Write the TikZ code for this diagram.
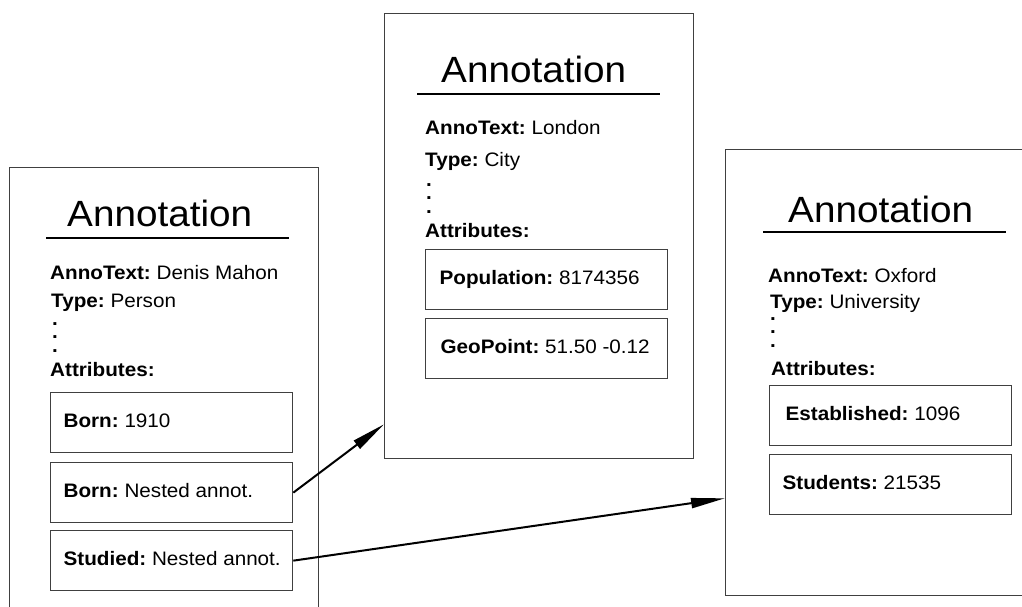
\documentclass[tikz,border=0pt]{standalone}
\usepackage{fontspec}
\setmainfont{Liberation Sans}[FakeStretch=1.06]
\usetikzlibrary{arrows.meta}
\frenchspacing
\newcommand\cardbody{\fontsize{19.5}{24}\selectfont}
\newcommand\cardtitle{\fontsize{36.5}{44}\selectfont}
% vertical ellipsis built from three bold periods
\newcommand\vdotstack{\vbox{\offinterlineskip\hbox{.}\kern10.5pt\hbox{.}\kern10.5pt\hbox{.}}}
\begin{document}
\begin{tikzpicture}[x=1pt,y=-1pt,
  card/.style={draw=black!75, line width=1.3pt, fill=white, anchor=north west,
    inner sep=0pt},
  attr/.style={draw=black!75, line width=1.3pt, anchor=north west,
    minimum width=242pt, minimum height=60pt,
    inner xsep=13pt, inner ysep=0pt,
    text height=14pt, text depth=4pt, font=\cardbody},
  title/.style={anchor=base west, inner sep=0pt, font=\cardtitle},
  field/.style={anchor=base west, inner sep=0pt, font=\cardbody},
  dots/.style={anchor=base, inner sep=0pt, font=\cardbody\bfseries},
  rule/.style={line width=2pt, black},
  link/.style={line width=2pt, -{Triangle[length=34pt,width=10pt]}}
]
\newcommand\attrtext[1]{\makebox[216pt][l]{#1}}
\useasboundingbox (0,0) rectangle (1022,607);
\clip (0,0) rectangle (1022,607);

% ---- Person card ----
\node[card, minimum width=309pt, minimum height=480pt] (person) at (9,167) {};
\node[title] (ptitle) at (67,226) {Annotation};
\draw[rule] (46,238) -- (289,238);
\node[field] (ptext) at (50,279) {\textbf{AnnoText:} Denis Mahon};
\node[field] (ptype) at (51,307) {\textbf{Type:} Person};
\node[dots] (pdots) at (55,352) {\vdotstack};
\node[field] (pattr) at (50,376) {\textbf{Attributes:}};
\node[attr] (born1) at (50,392) {\attrtext{\textbf{Born:} 1910}};
\node[attr] (born2) at (50,462) {\attrtext{\textbf{Born:} Nested annot.}};
\node[attr] (studied) at (50,530) {\attrtext{\textbf{Studied:} Nested annot.}};

% ---- City card ----
\node[card, minimum width=309pt, minimum height=445pt] (city) at (384,13) {};
\node[title] (ctitle) at (441,83) {Annotation};
\draw[rule] (417,94) -- (660,94);
\node[field] (ctext) at (425,135) {\textbf{AnnoText:} London};
\node[field] (ctype) at (425,166) {\textbf{Type:} City};
\node[dots] (cdots) at (429,213) {\vdotstack};
\node[field] (cattr) at (425,237) {\textbf{Attributes:}};
\node[attr] (pop) at (425,249) {\attrtext{\hspace{1pt}\textbf{Population:} 8174356}};
\node[attr] (geo) at (425,318) {\attrtext{\hspace{2pt}\textbf{GeoPoint:} 51.50 -0.12}};

% ---- University card ----
\node[card, minimum width=320pt, minimum height=446pt] (uni) at (725,149) {};
\node[title] (utitle) at (788,222) {Annotation};
\draw[rule] (763,232) -- (1006,232);
\node[field] (utext) at (768,282) {\textbf{AnnoText:} Oxford};
\node[field] (utype) at (770,308) {\textbf{Type:} University};
\node[dots] (udots) at (773,347) {\vdotstack};
\node[field] (uattr) at (771,375) {\textbf{Attributes:}};
\node[attr] (est) at (769,385) {\attrtext{\hspace{3pt}\textbf{Established:} 1096}};
\node[attr] (stud) at (769,454) {\attrtext{\textbf{Students:} 21535}};

% ---- links to nested annotations ----
\draw[link] (born2.east) -- ([yshift=35pt]city.south west);
\draw[link] (studied.east) -- ([yshift=98pt]uni.south west);
\end{tikzpicture}
\end{document}
